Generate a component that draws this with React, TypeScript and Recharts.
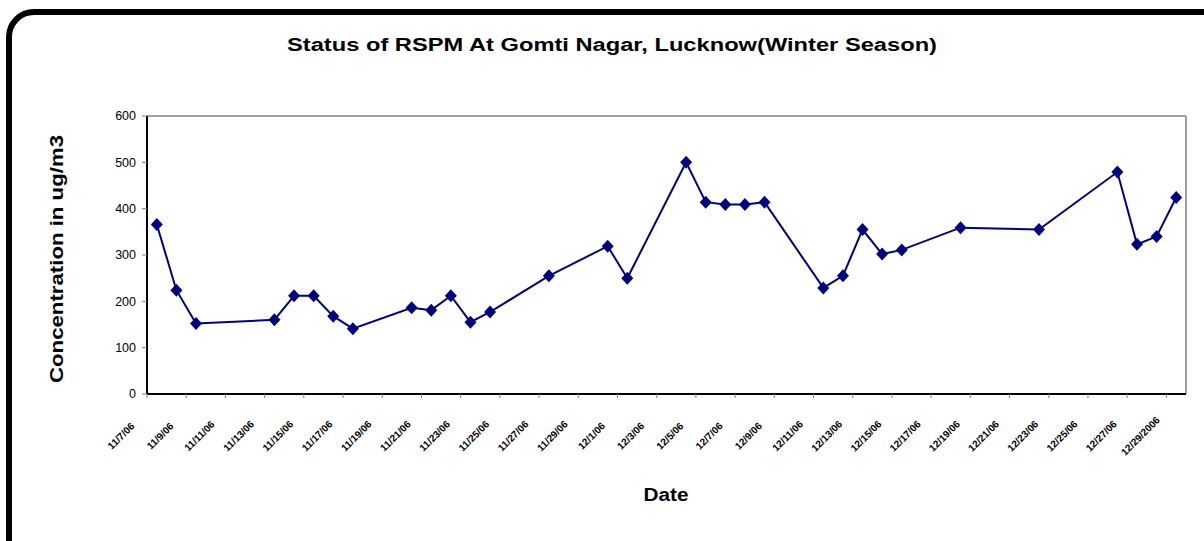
import { LineChart, Line, XAxis, YAxis, ReferenceLine } from "recharts";

// sampling dates (2006) and RSPM concentration, ug/m3
const dates = [
  "11/7", "11/8", "11/9", "11/13", "11/14", "11/15", "11/16", "11/17",
  "11/20", "11/21", "11/22", "11/23", "11/24", "11/27", "11/30", "12/1",
  "12/4", "12/5", "12/6", "12/7", "12/8", "12/11", "12/12", "12/13",
  "12/14", "12/15", "12/18", "12/22", "12/26", "12/27", "12/28", "12/29",
];
const rspm = [
  366, 224, 152, 160, 212, 212, 168, 141,
  186, 181, 212, 155, 177, 255, 319, 250,
  500, 414, 409, 409, 414, 229, 255, 355,
  302, 311, 359, 355, 479, 323, 340, 424,
];
const tickLabels = [
  "11/7/06", "11/9/06", "11/11/06", "11/13/06", "11/15/06", "11/17/06",
  "11/19/06", "11/21/06", "11/23/06", "11/25/06", "11/27/06", "11/29/06",
  "12/1/06", "12/3/06", "12/5/06", "12/7/06", "12/9/06", "12/11/06",
  "12/13/06", "12/15/06", "12/17/06", "12/19/06", "12/21/06", "12/23/06",
  "12/25/06", "12/27/06", "12/29/2006",
];
const yTicks = [0, 100, 200, 300, 400, 500, 600];

const start = new Date(2006, 10, 7).getTime();
const dayIndex = (s: string) => {
  const [m, d] = s.split("/").map(Number);
  return Math.round((new Date(2006, m - 1, d).getTime() - start) / 86400000);
};

const data = dates.map((d, i) => ({ day: dayIndex(d), value: rspm[i] }));
const xTicks = tickLabels.map((_, i) => i * 2 - 0.5);

const FONT = "'Liberation Sans', Arial, sans-serif";
const NAVY = "#000080";

const Diamond = (props: any) => {
  const { cx, cy, index } = props;
  if (cx == null || cy == null) return null;
  return (
    <polygon
      key={index}
      points={`${cx},${cy - 6.5} ${cx + 6},${cy} ${cx},${cy + 6.5} ${cx - 6},${cy}`}
      fill={NAVY}
    />
  );
};

const DateTick = (props: any) => {
  const { x, y, payload } = props;
  const label = tickLabels[Math.round((payload.value + 0.5) / 2)];
  const cx = x - 26;
  const cy = y + 38;
  return (
    <text
      x={cx}
      y={cy}
      transform={`rotate(-45 ${cx} ${cy})`}
      textAnchor="middle"
      dominantBaseline="central"
      fontSize={10}
      fontWeight="bold"
      fontFamily={FONT}
      fill="#000"
    >
      {label}
    </text>
  );
};

const App = () => {
  return (
    <div
      style={{
        position: "absolute",
        left: 0,
        top: 0,
        width: 1204,
        height: 541,
        overflow: "hidden",
        background: "#fff",
      }}
    >
      {/* rounded frame, cut off on the right and bottom */}
      <div
        style={{
          position: "absolute",
          left: 6,
          top: 9,
          width: 1230,
          height: 570,
          border: "6px solid #000",
          borderRadius: 28,
        }}
      />

      <div style={{ position: "absolute", left: 0, top: 0 }}>
        <LineChart
          width={1204}
          height={541}
          data={data}
          margin={{ top: 116, right: 18, bottom: 87, left: 87 }}
        >
          <XAxis
            type="number"
            dataKey="day"
            domain={[-0.5, 52.5]}
            ticks={xTicks}
            interval={0}
            height={60}
            tickSize={4}
            tickMargin={0}
            axisLine={{ stroke: "#000", strokeWidth: 2 }}
            tickLine={{ stroke: "#808080" }}
            tick={<DateTick />}
          />
          <YAxis
            type="number"
            domain={[0, 600]}
            ticks={yTicks}
            interval={0}
            width={60}
            tickSize={5}
            tickMargin={6}
            axisLine={{ stroke: "#000", strokeWidth: 2 }}
            tickLine={{ stroke: "#808080" }}
            tick={{ fill: "#000", fontSize: 12.5, fontFamily: FONT }}
          />
          <ReferenceLine y={600} stroke="#808080" strokeWidth={1.5} />
          <ReferenceLine x={52.5} stroke="#808080" strokeWidth={1.5} />
          <Line
            type="linear"
            dataKey="value"
            stroke={NAVY}
            strokeWidth={2}
            dot={<Diamond />}
            activeDot={false}
            isAnimationActive={false}
          />
        </LineChart>
      </div>

      {/* titles */}
      <svg
        width={1204}
        height={541}
        style={{ position: "absolute", left: 0, top: 0, pointerEvents: "none" }}
      >
        <text
          x={612}
          y={51}
          textAnchor="middle"
          fontSize={18}
          fontWeight="bold"
          fontFamily={FONT}
          textLength={650}
          lengthAdjust="spacingAndGlyphs"
        >
          Status of RSPM At Gomti Nagar, Lucknow(Winter Season)
        </text>
        <text
          x={63}
          y={259}
          transform="rotate(-90 63 259)"
          textAnchor="middle"
          fontSize={18}
          fontWeight="bold"
          fontFamily={FONT}
          textLength={248}
          lengthAdjust="spacingAndGlyphs"
        >
          Concentration in ug/m3
        </text>
        <text
          x={666}
          y={501}
          textAnchor="middle"
          fontSize={18}
          fontWeight="bold"
          fontFamily={FONT}
          textLength={45}
          lengthAdjust="spacingAndGlyphs"
        >
          Date
        </text>
      </svg>
    </div>
  );
};

export default App;
